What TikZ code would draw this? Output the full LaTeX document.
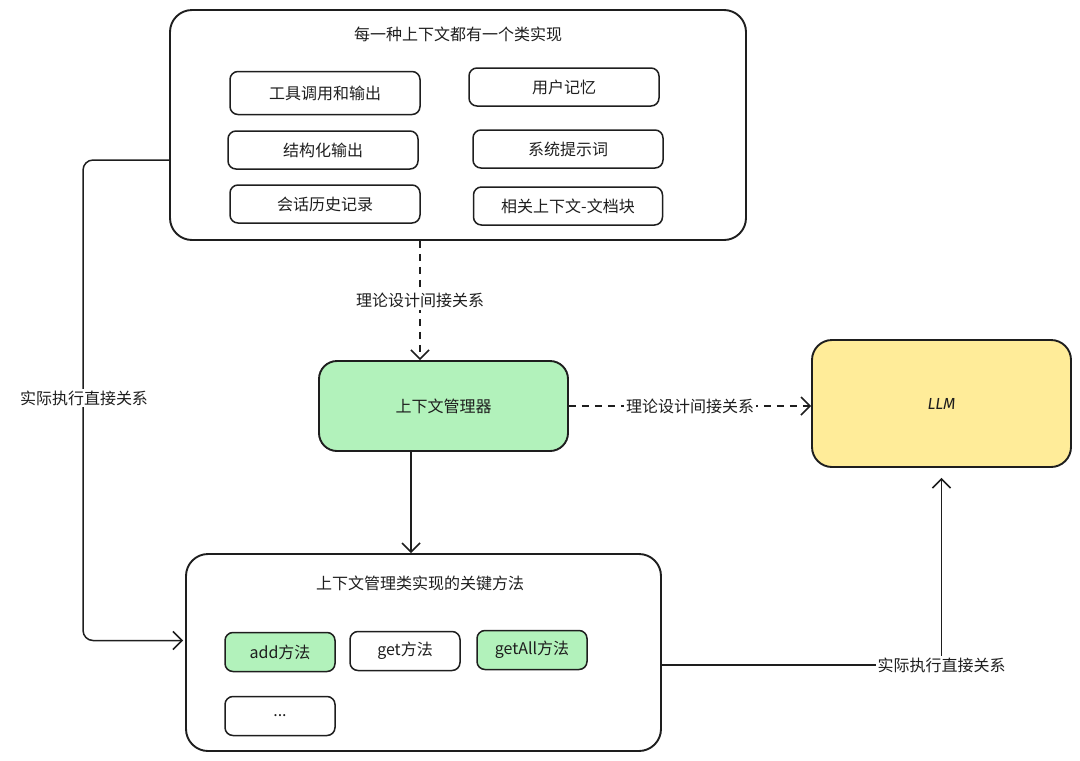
\documentclass[tikz,border=0pt]{standalone}
\usepackage{fontspec}
\newfontfamily\cjk{Noto Sans CJK SC}
\newfontfamily\lat{Fira Sans}
\usetikzlibrary{arrows.meta}
\definecolor{ink}{HTML}{1E1E1E}
\definecolor{gfill}{HTML}{B2F2BB}
\definecolor{yfill}{HTML}{FFEC99}
\tikzset{
  x=1pt,y=-1pt,
  every node/.style={font=\cjk\fontsize{16}{19}\selectfont, text=ink},
  bigbox/.style={draw=ink, line width=1.9pt, rounded corners=22pt, rectangle},
  smallbox/.style={draw=ink, line width=1.5pt, rounded corners=8pt, rectangle, minimum width=190pt, minimum height=38pt},
  methbox/.style={draw=ink, line width=1.5pt, rounded corners=8pt, rectangle, minimum width=110pt, minimum height=39pt},
  arr/.style={draw=ink, line width=1.5pt, -{Straight Barb[length=9pt,width=18pt,line width=1.5pt]}},
  lbl/.style={fill=white, inner sep=2pt},
}
\begin{document}
\begin{tikzpicture}
\useasboundingbox (0,0) rectangle (1080,761);
% top box
\node[bigbox, minimum width=576pt, minimum height=230pt] (top) at (458,125) {};
\node (toptitle) at (458,34) {每一种上下文都有一个类实现};
\node[smallbox, minimum height=43pt] (b1) at (325,93) {工具调用和输出};
\node[smallbox] (b2) at (564,87) {用户记忆};
\node[smallbox] (b3) at (323,150) {结构化输出};
\node[smallbox] (b4) at (568,149) {系统提示词};
\node[smallbox] (b5) at (325,204) {会话历史记录};
\node[smallbox, minimum width=189pt] (b6) at (568,206) {相关上下文-文档块};
% manager
\node[bigbox, rounded corners=18pt, fill=gfill, minimum width=249pt, minimum height=90pt] (mgr) at (443.5,406) {上下文管理器};
% LLM
\node[bigbox, rounded corners=20pt, fill=yfill, minimum width=259pt, minimum height=127pt] (llm) at (941.5,403.5) {\lat\itshape LLM};
% bottom box
\node[bigbox, minimum width=475pt, minimum height=197pt] (bot) at (423.5,652.5) {};
\node (bottitle) at (420,583) {上下文管理类实现的关键方法};
\node[methbox, fill=gfill] (m1) at (280,652) {add方法};
\node[methbox] (m2) at (405,651) {get方法};
\node[methbox, fill=gfill] (m3) at (532,650) {getAll方法};
\node[methbox] (m4) at (280,716) {...};
% connectors
\draw[arr, dashed, dash pattern=on 7pt off 6pt] ([xshift=-38pt]top.south) -- node[lbl] {理论设计间接关系} ([xshift=-23.5pt]mgr.north);
\draw[arr, dashed, dash pattern=on 7pt off 6pt] (mgr.east) -- node[lbl] {理论设计间接关系} (mgr.east -| llm.west);
\draw[arr] ([xshift=-32.5pt]mgr.south) -- ([xshift=-32.5pt]mgr.south |- bot.north);
\draw[arr, rounded corners=10pt] ([yshift=-35pt]top.west) -- ++(-86,0) |- ([yshift=12pt,xshift=-2pt]bot.west);
\node[lbl] (leftlbl) at (84,398) {实际执行直接关系};
\draw[arr] ([yshift=-12.5pt]bot.east) -| node[lbl, pos=0.5] {实际执行直接关系} ([yshift=-10pt]llm.south);
\end{tikzpicture}
\end{document}
